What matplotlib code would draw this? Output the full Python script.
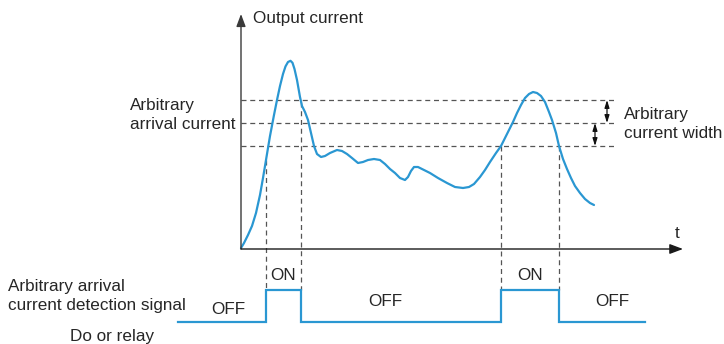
import numpy as np
import matplotlib
matplotlib.use("Agg")
import matplotlib.pyplot as plt

plt.rcParams['font.family'] = ['Liberation Sans', 'DejaVu Sans']

# Output current over time (arbitrary units: time, % of rated current)
time = [0.0, 0.3, 0.7, 1.1, 1.5, 1.9, 2.2, 2.5, 2.9, 3.3, 3.6, 3.9, 4.2, 4.45, 4.7,
        4.95, 5.15, 5.35, 5.6, 5.9, 6.1, 6.4, 6.7, 7.0, 7.3, 7.6, 8.0, 8.4, 8.9, 9.6, 10.1,
        10.6, 11.1, 11.7, 12.2, 12.7, 13.3, 13.9, 14.4, 14.9, 15.4, 15.9, 16.4, 16.7,
        17.0, 17.3, 17.7, 18.3, 18.9, 19.7, 20.6, 21.4, 22.2, 22.8, 23.3, 23.9, 24.4,
        24.9, 25.5, 26.0, 26.4, 26.8, 27.2, 27.6, 28.0, 28.4, 28.8, 29.2, 29.6, 30.0,
        30.4, 30.8, 31.1, 31.5, 31.8, 32.2, 32.6, 33.0, 33.4, 33.9, 34.4, 34.9, 35.3]
current = [0.0, 2.5, 6.5, 11.0, 17.5, 26.5, 35.0, 44.0, 56.0, 66.5, 74.0, 81.0, 87.0,
           90.8, 93.0, 93.6, 92.6, 89.5, 84.0, 75.5, 71.0, 68.0, 64.0, 57.5, 51.0, 47.0, 45.5,
           46.0, 47.5, 49.0, 48.5, 47.0, 45.0, 42.5, 43.0, 44.0, 44.5, 44.0, 42.0, 39.5,
           37.5, 35.0, 34.0, 35.5, 38.5, 40.5, 40.5, 39.0, 37.5, 35.0, 32.5, 30.5, 30.0,
           30.5, 32.0, 35.5, 39.0, 43.0, 47.5, 51.0, 55.0, 59.0, 63.0, 67.5, 71.5, 75.0,
           77.0, 78.0, 77.5, 76.0, 73.0, 68.0, 64.0, 57.5, 51.0, 44.5, 39.5, 35.0, 31.0,
           27.5, 24.5, 22.5, 21.5]

# Detection band: upper limit, arrival current, lower limit
levels = [74.0, 62.5, 51.0]
level_end = 37.4

# Switching instants of the detection output
switch_times = [2.5, 6.0, 26.0, 31.8]
signal_start, signal_end = -6.3, 40.4
signal_low, signal_high = -37.0, -21.0

blue = '#2a97d2'
axis_col = '#3a3a3a'
dash_col = '#555555'
text_col = '#262626'
fs = 12.3

fig = plt.figure(figsize=(7.24, 3.44), dpi=100)
ax = fig.add_axes([0, 0, 1, 1])
ax.set_xlim(-24.1, 48.3)
ax.set_ylim(-48, 124)
ax.axis('off')

# axes with arrows
ax.annotate('', xy=(0, 117), xytext=(0, -0.5),
            arrowprops=dict(arrowstyle='-|>,head_length=0.75,head_width=0.28',
                            color=axis_col, lw=1.0, shrinkA=0, shrinkB=0))
ax.annotate('', xy=(44.2, -0.5), xytext=(0, -0.5),
            arrowprops=dict(arrowstyle='-|>,head_length=0.8,head_width=0.3',
                            color='#1a1a1a', lw=1.0, shrinkA=0, shrinkB=0))
ax.text(1.2, 115, 'Output current', fontsize=fs, va='center', ha='left', color=text_col)
ax.text(43.6, 7.5, 't', fontsize=fs, va='center', ha='center', color=text_col)

# threshold dashed lines
for lv in levels:
    ax.plot([0, level_end], [lv, lv], ls=(0, (4, 3)), color=dash_col, lw=0.9)

# vertical dashed lines from the curve down to the signal
for ts in switch_times:
    top = np.interp(ts, time, current)
    ax.plot([ts, ts], [top, signal_high], ls=(0, (4, 3)), color=dash_col, lw=0.9)

# current curve
ax.plot(time, current, color=blue, lw=1.6, solid_capstyle='round', solid_joinstyle='round')

# width arrows
for x, (a, b) in [(36.6, (levels[0], levels[1])), (35.4, (levels[1], levels[2]))]:
    ax.annotate('', xy=(x, a), xytext=(x, b),
                arrowprops=dict(arrowstyle='<|-|>,head_length=0.45,head_width=0.14',
                                color='#111', lw=0.9, shrinkA=0, shrinkB=0))

ax.text(-11.1, 66.5, 'Arbitrary\narrival current', fontsize=fs, va='center',
        ha='left', linespacing=1.3, color=text_col)
ax.text(38.3, 62.0, 'Arbitrary\ncurrent width', fontsize=fs, va='center',
        ha='left', linespacing=1.3, color=text_col)

# detection signal
sig_t = [signal_start]
sig_v = [signal_low]
state = signal_low
for ts in switch_times:
    sig_t += [ts, ts]
    new = signal_high if state == signal_low else signal_low
    sig_v += [state, new]
    state = new
sig_t.append(signal_end)
sig_v.append(state)
ax.plot(sig_t, sig_v, color=blue, lw=1.6, solid_joinstyle='miter')

on_labels = [((switch_times[0] + switch_times[1]) / 2, -14),
             ((switch_times[2] + switch_times[3]) / 2, -14)]
for x, y in on_labels:
    ax.text(x, y, 'ON', fontsize=fs, ha='center', va='center', color=text_col)
for x, y in [(-1.3, -30.5), (14.4, -26.5), (37.1, -26.5)]:
    ax.text(x, y, 'OFF', fontsize=fs, ha='center', va='center', color=text_col)

ax.text(-23.3, -24, 'Arbitrary arrival\ncurrent detection signal', fontsize=fs,
        ha='left', va='center', linespacing=1.3, color=text_col)
ax.text(-12.9, -44.5, 'Do or relay', fontsize=fs, ha='center', va='center', color=text_col)

fig.savefig('out.png', dpi=100)
